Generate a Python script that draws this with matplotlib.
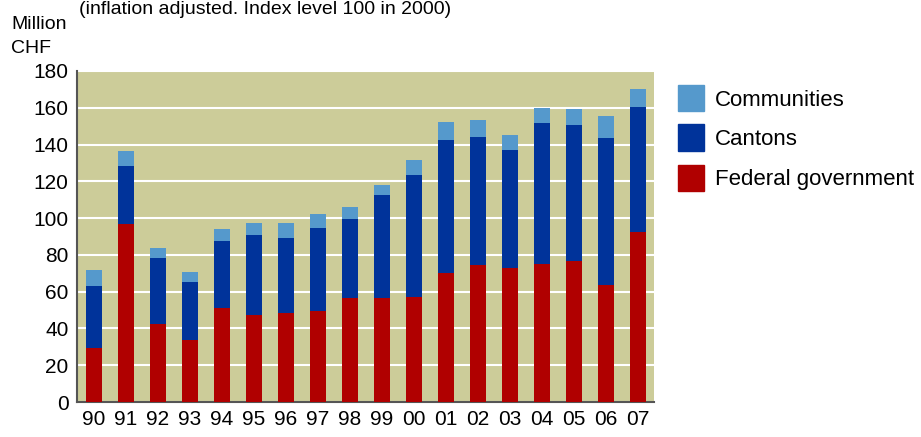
import matplotlib
matplotlib.use("Agg")
import matplotlib.pyplot as plt
from matplotlib.patches import Rectangle

years = ["90", "91", "92", "93", "94", "95", "96", "97", "98", "99",
         "00", "01", "02", "03", "04", "05", "06", "07"]
federal = [29.5, 96.9, 42.4, 33.6, 51.3, 47.3, 48.2, 49.5, 56.7, 56.7,
           57.1, 70.0, 74.4, 72.6, 75.3, 76.6, 63.5, 92.2]
cantons_top = [63.3, 128.2, 78.4, 65.5, 87.8, 90.7, 89.3, 94.4, 99.3, 112.6,
               123.3, 142.7, 144.2, 137.1, 151.8, 150.4, 143.7, 160.6]
total_top = [71.8, 136.4, 83.5, 70.7, 94.2, 97.3, 97.5, 102.2, 105.8, 118.0,
             131.5, 152.2, 153.5, 145.3, 160.0, 159.3, 155.7, 170.4]
cantons = [c - f for c, f in zip(cantons_top, federal)]
communities = [t - c for t, c in zip(total_top, cantons_top)]

series_labels = ["Communities", "Cantons", "Federal government"]
colors = {"Federal government": "#b00000", "Cantons": "#00339a", "Communities": "#5599cc"}

plt.rcParams['font.family'] = ['Liberation Sans', 'DejaVu Sans']

W, H = 921, 437
fig = plt.figure(figsize=(W / 100, H / 100), dpi=100)
ax = fig.add_axes([77 / W, 1 - 402 / H, (654 - 77) / W, (402 - 71) / H])
ax.set_facecolor("#cccc99")

x = range(len(years))
ax.bar(x, federal, width=0.5, color=colors["Federal government"], zorder=3)
ax.bar(x, cantons, width=0.5, bottom=federal, color=colors["Cantons"], zorder=3)
ax.bar(x, communities, width=0.5, bottom=cantons_top, color=colors["Communities"], zorder=3)

ax.set_xlim(-0.52, len(years) - 0.49)
ax.set_ylim(0, 180)
ax.set_yticks(range(0, 181, 20))
ax.set_xticks(list(x))
ax.set_xticklabels(years)
ax.yaxis.grid(True, color="white", linewidth=1.5, zorder=1)
ax.set_axisbelow(True)
for s in ["top", "right"]:
    ax.spines[s].set_visible(False)
for s in ["left", "bottom"]:
    ax.spines[s].set_color("#555555")
    ax.spines[s].set_linewidth(1.5)
ax.tick_params(axis="both", labelsize=15, length=0, colors="black")
ax.tick_params(axis="y", pad=6)
ax.tick_params(axis="x", pad=6)

fig.text(11 / W, 1 - 29 / H, "Million", fontsize=14, va="baseline", ha="left")
fig.text(11 / W, 1 - 53 / H, "CHF", fontsize=14, va="baseline", ha="left")
fig.text(79 / W, 1 - 14 / H, "(inflation adjusted. Index level 100 in 2000)", fontsize=14,
         va="baseline", ha="left")

# legend
leg_y = [98, 137.5, 177.5]
for lab, yy in zip(series_labels, leg_y):
    fig.patches.append(Rectangle((678 / W, 1 - (yy + 13) / H), 26 / W, 26 / H,
                                 transform=fig.transFigure, color=colors[lab]))
    fig.text(715 / W, 1 - (yy + 2) / H, lab, fontsize=16, va="center", ha="left")

fig.savefig("out.png", dpi=100)
